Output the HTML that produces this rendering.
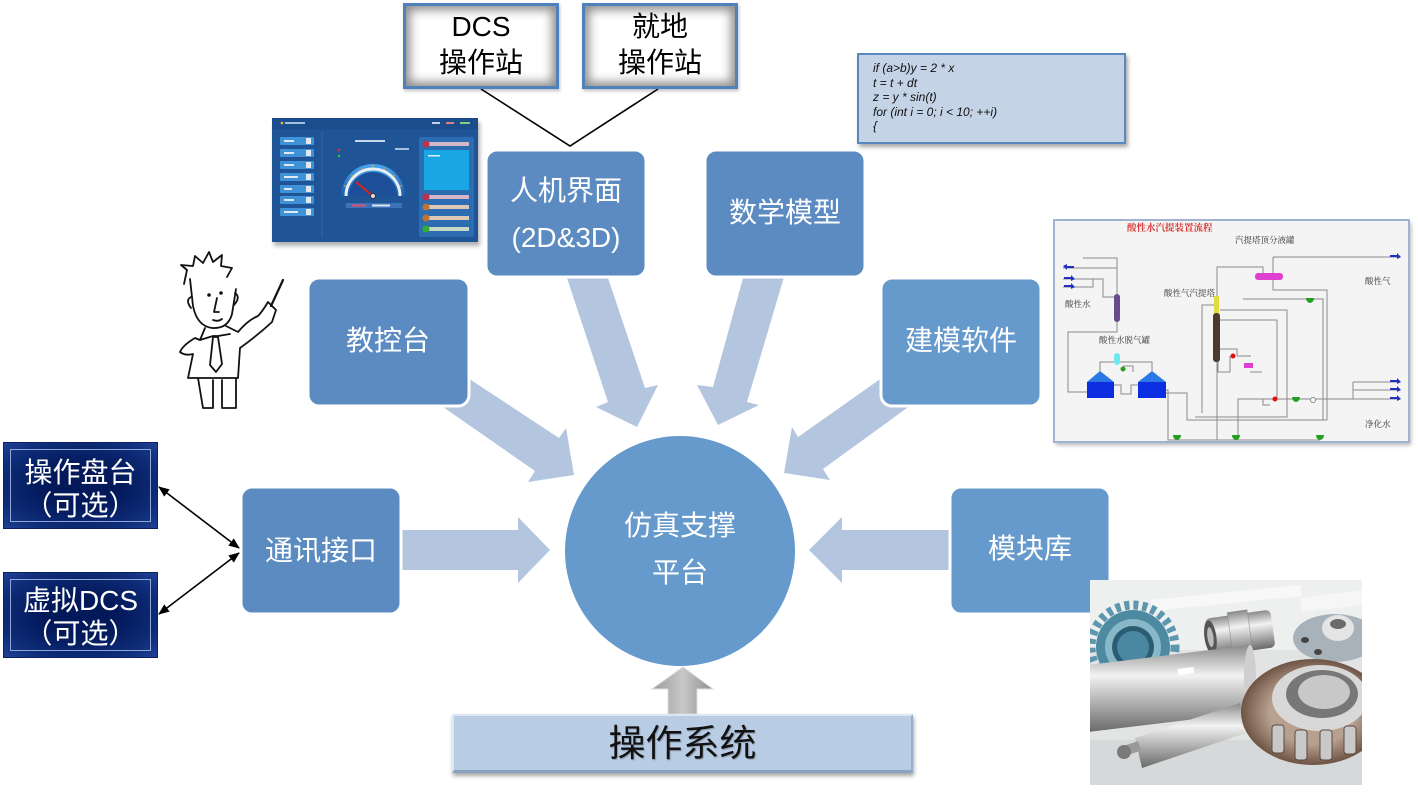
<!DOCTYPE html>
<html><head><meta charset="utf-8">
<style>
html,body{margin:0;padding:0;background:#fff;}
#c{position:relative;width:1418px;height:800px;overflow:hidden;background:#fff;font-family:"Liberation Sans","Noto Sans CJK SC",sans-serif;}
#c svg{position:absolute;left:0;top:0;}
.ws{position:absolute;box-sizing:border-box;border:3px solid #4f81bd;background:#fff;box-shadow:inset 0 0 10px 4px #8c8c8c,1px 2px 3px rgba(0,0,0,.25);text-align:center;color:#000;font-size:28px;line-height:36px;padding-top:3px;}
.nv{position:absolute;box-sizing:border-box;background:radial-gradient(ellipse at center,#03195a 35%,#0e2c78 75%,#1f4196 100%);border:1px solid #0a2060;text-align:center;color:#fff;font-size:28px;line-height:33px;}
.nv i{position:absolute;left:6px;top:6px;right:6px;bottom:6px;border:1px solid #8fa6d6;}
.nv span{position:relative;display:block;}
.os{position:absolute;left:452px;top:714px;width:461px;height:59px;box-sizing:border-box;background:#b8cce4;border-top:2px solid #dce7f3;border-left:2px solid #dce7f3;border-right:2px solid #97afcc;border-bottom:3px solid #8aa3c3;box-shadow:1px 3px 4px rgba(0,0,0,.35);text-align:center;font-size:37px;line-height:56px;color:#111;text-shadow:1px 1px 1px rgba(0,0,0,.25);}
.code{position:absolute;left:857px;top:53px;width:269px;height:91px;box-sizing:border-box;background:#c5d3e6;border:2px solid #5b87c1;box-shadow:2px 3px 4px rgba(0,0,0,.35);font-style:italic;font-size:12px;line-height:14.5px;padding:6px 0 0 14px;color:#111;white-space:pre;}
</style></head>
<body><div id="c">
<svg width="1418" height="800" viewBox="0 0 1418 800" xmlns="http://www.w3.org/2000/svg">
<defs>
<marker id="ah" markerWidth="11" markerHeight="9" refX="10" refY="4.5" orient="auto-start-reverse" markerUnits="userSpaceOnUse"><path d="M0,0 L11,4.5 L0,9 z" fill="#000"/></marker>
<linearGradient id="gar" x1="0" x2="1" y1="0" y2="0"><stop offset="0" stop-color="#9a9a9a"/><stop offset=".5" stop-color="#c8c8c8"/><stop offset="1" stop-color="#8e8e8e"/></linearGradient>
<linearGradient id="silv" x1="0" x2="0" y1="0" y2="1"><stop offset="0" stop-color="#8a8a8a"/><stop offset=".35" stop-color="#f2f2f2"/><stop offset=".6" stop-color="#bdbdbd"/><stop offset="1" stop-color="#6a6a6a"/></linearGradient>
<linearGradient id="gauge" x1="0" x2="0" y1="0" y2="1"><stop offset="0" stop-color="#4aa6ee"/><stop offset="1" stop-color="#1a5cb0"/></linearGradient>
<radialGradient id="brg" cx=".5" cy=".5" r=".5"><stop offset=".6" stop-color="#b8a090"/><stop offset="1" stop-color="#6e5444"/></radialGradient>
<filter id="bl" x="-10%" y="-10%" width="120%" height="130%"><feGaussianBlur stdDeviation="2"/></filter>
<clipPath id="pc"><rect x="1090" y="580" width="272" height="205"/></clipPath>
</defs>

<!-- V connector lines -->
<polyline points="481,89 570,146 658,89" fill="none" stroke="#000" stroke-width="1.6"/>

<!-- double arrows -->
<line x1="159" y1="487" x2="239" y2="548" stroke="#000" stroke-width="1.6" marker-start="url(#ah)" marker-end="url(#ah)"/>
<line x1="239" y1="553" x2="159" y2="614" stroke="#000" stroke-width="1.6" marker-start="url(#ah)" marker-end="url(#ah)"/>

<!-- big light arrows -->
<g fill="#b4c6df">
<polygon points="561,260 608,402 596,407 637,427 658,385 645,388 602,260"/>
<polygon points="748,260 713,387 697,385 718,425 759,405 747,402 789,260"/>
<polygon points="430,353 559,438 566,428 574,475 528,482 535,471 410,384"/>
<polygon points="920,351 798,437 792,427 784,473 830,480 823,469 940,384"/>
<polygon points="380,530 518,530 518,517 550,550 518,583 518,570 380,570"/>
<polygon points="975,530 842,530 842,517 809,550 842,583 842,570 975,570"/>
</g>

<!-- gray up arrow -->
<polygon points="683,667 713,689 697,689 697,714 668,714 668,689 652,689" fill="url(#gar)" stroke="#dedede" stroke-width="1"/>

<!-- circle -->
<circle cx="680" cy="551" r="115" fill="#6699cc"/>
<g fill="#fff" font-size="28" text-anchor="middle" font-family="Liberation Sans, Noto Sans CJK SC, sans-serif">
<text x="680" y="535">仿真支撑</text>
<text x="680" y="582">平台</text>
</g>

<!-- rounded boxes -->
<g stroke="#fff" stroke-width="3">
<rect x="486" y="150" width="160" height="127" rx="11" fill="#5b8bc1"/>
<rect x="705" y="150" width="160" height="127" rx="11" fill="#5b8bc1"/>
<rect x="308" y="278" width="161" height="128" rx="11" fill="#5b8bc1"/>
<rect x="881" y="278" width="160" height="128" rx="11" fill="#6699cc"/>
<rect x="241" y="487" width="160" height="127" rx="11" fill="#5b8bc1"/>
<rect x="950" y="487" width="160" height="127" rx="11" fill="#6699cc"/>
</g>
<g fill="#fff" font-size="28" text-anchor="middle" font-family="Liberation Sans, Noto Sans CJK SC, sans-serif">
<text x="566" y="200">人机界面</text>
<text x="566" y="247">(2D&amp;3D)</text>
<text x="785" y="222">数学模型</text>
<text x="388" y="350">教控台</text>
<text x="961" y="350">建模软件</text>
<text x="321" y="560">通讯接口</text>
<text x="1030" y="558">模块库</text>
</g>

<!-- HMI screenshot -->
<g>
<rect x="274" y="122" width="206" height="124" fill="#000" opacity=".3" filter="url(#bl)"/>
<rect x="272" y="118" width="206" height="124" fill="#1f5596"/>
<rect x="272" y="118" width="206" height="11" fill="#1b4d8c"/>
<circle cx="282" cy="123" r="1.3" fill="#f0c020"/>
<rect x="285" y="122" width="20" height="2" fill="#9fc0e0"/>
<rect x="432" y="122" width="8" height="2" fill="#c0d4e8"/><rect x="446" y="122" width="8" height="2" fill="#e08080"/><rect x="460" y="122" width="10" height="2" fill="#80d080"/>
<g fill="#3f92d8">
<rect x="280" y="137" width="34" height="8" rx="1"/><rect x="280" y="149" width="34" height="8" rx="1"/><rect x="280" y="161" width="34" height="8" rx="1"/><rect x="280" y="173" width="34" height="8" rx="1"/><rect x="280" y="185" width="34" height="8" rx="1"/><rect x="280" y="196" width="34" height="8" rx="1"/><rect x="280" y="208" width="34" height="8" rx="1"/>
</g>
<g fill="#e0e8f0">
<rect x="306" y="138" width="5" height="6"/><rect x="306" y="150" width="5" height="6"/><rect x="306" y="162" width="5" height="6"/><rect x="306" y="174" width="5" height="6"/><rect x="306" y="186" width="5" height="6"/><rect x="306" y="197" width="5" height="6"/><rect x="306" y="209" width="5" height="6"/>
<rect x="284" y="140" width="10" height="2"/><rect x="284" y="152" width="10" height="2"/><rect x="284" y="164" width="10" height="2"/><rect x="284" y="176" width="14" height="2"/><rect x="284" y="188" width="8" height="2"/><rect x="284" y="199" width="10" height="2"/><rect x="284" y="211" width="14" height="2"/>
</g>
<line x1="322" y1="132" x2="322" y2="238" stroke="#2c66aa" stroke-width="1"/>
<rect x="355" y="140" width="30" height="2" fill="#c8d8ea"/>
<rect x="395" y="148" width="14" height="2" fill="#a8c0dc"/>
<circle cx="339" cy="150" r="1.3" fill="#e03030"/><circle cx="339" cy="156" r="1.3" fill="#30c030"/>
<path d="M341,196 A32,32 0 0 1 405,196 Z" fill="url(#gauge)"/>
<path d="M346,196 A27,27 0 0 1 400,196" fill="none" stroke="#e8eef4" stroke-width="3"/>
<path d="M349,196 A24,24 0 0 1 397,196 Z" fill="#1c4f98"/>
<g fill="#e8a040"><circle cx="345" cy="186" r=".9"/><circle cx="352" cy="176" r=".9"/><circle cx="362" cy="169" r=".9"/><circle cx="373" cy="166" r=".9"/><circle cx="384" cy="169" r=".9"/><circle cx="394" cy="176" r=".9"/><circle cx="401" cy="186" r=".9"/></g>
<line x1="373" y1="196" x2="356" y2="182" stroke="#e02020" stroke-width="2"/>
<circle cx="373" cy="196" r="2.5" fill="#ddd" stroke="#333" stroke-width="1"/>
<rect x="346" y="203" width="56" height="5" fill="#3b72b9"/>
<rect x="352" y="204.5" width="14" height="2" fill="#e05070"/><rect x="372" y="204.5" width="18" height="2" fill="#e0e8f0"/>
<rect x="419" y="137" width="55" height="100" rx="2" fill="#2c6db2"/>
<rect x="428" y="142" width="41" height="4" fill="#d4b6c6"/><circle cx="426" cy="144" r="3.5" fill="#c0304a"/>
<rect x="424" y="150" width="45" height="40" fill="#19a6e4"/>
<rect x="428" y="155" width="12" height="1.5" fill="#e0f0ff"/>
<rect x="428" y="195" width="41" height="4" fill="#d4b6c6"/><circle cx="426" cy="197" r="3.5" fill="#c0304a"/>
<rect x="428" y="205" width="41" height="4" fill="#ddc8b8"/><circle cx="426" cy="207" r="3.5" fill="#c07232"/>
<rect x="428" y="216" width="41" height="4" fill="#ddc8b8"/><circle cx="426" cy="218" r="3.5" fill="#c07232"/>
<rect x="428" y="227" width="41" height="4" fill="#c8d8c8"/><circle cx="426" cy="229" r="3.5" fill="#30b030"/>
</g>

<!-- cartoon person -->
<g fill="none" stroke="#111" stroke-width="1.8" stroke-linejoin="round" stroke-linecap="round">
<polyline points="184,284 187,270 181,265 193,266 195,256 203,263 209,252 213,262 222,255 221,266 232,268 227,277"/>
<path d="M190,279 L193,306 Q197,326 212,328 Q228,329 232,314 L236,289"/>
<path d="M191,297 Q185,300 191,308"/>
<path d="M235,293 Q241,297 234,305"/>
<path d="M217,298 L214,312 L219,312"/>
<path d="M213,320 Q218,322 222,319"/>
<path d="M205,328 L200,340 L195,338 Q183,345 180,352 Q185,356 193,354 L188,378 L238,378 L240,348 Q258,335 272,322 L276,310 L268,302 Q262,312 258,316 Q248,320 238,332 L226,326"/>
<path d="M200,340 L213,336 L218,336 L230,334"/>
<polygon points="213,337 218,337 222,364 216,372 210,365" fill="#fff"/>
<line x1="271" y1="306" x2="283" y2="280" stroke-width="2.2"/>
<path d="M198,378 L203,408 L213,408 L213,380"/>
<path d="M222,380 L222,408 L236,408 L236,378"/>
</g>
<g fill="#111"><circle cx="209" cy="295" r="1.8"/><circle cx="221" cy="293" r="1.8"/></g>

<!-- process diagram -->
<g>
<rect x="1056" y="223" width="355" height="222" fill="#000" opacity=".3" filter="url(#bl)"/>
<rect x="1054" y="220" width="355" height="222" fill="#f4f4f4" stroke="#9fb2cf" stroke-width="2"/>
<g font-family="Liberation Serif, Noto Serif CJK SC, serif" font-size="8.5" fill="#333">
<text x="1127" y="231" fill="#d83030" font-size="9.5" font-weight="bold">酸性水汽提装置流程</text>
<text x="1235" y="243">汽提塔顶分液罐</text>
<text x="1365" y="284">酸性气</text>
<text x="1065" y="307">酸性水</text>
<text x="1164" y="296">酸性气汽提塔</text>
<text x="1099" y="343">酸性水脱气罐</text>
<text x="1365" y="427">净化水</text>
</g>
<g fill="none" stroke="#8a8a8a" stroke-width="1">
<polyline points="1083,258 1117,258 1117,294"/>
<polyline points="1063,268 1117,268"/>
<polyline points="1063,279 1103,279 1103,297 1114,297"/>
<polyline points="1063,287 1093,287 1093,279"/>
<polyline points="1117,322 1117,332 1068,332 1068,392 1087,392"/>
<polyline points="1100,371 1100,362 1152,362 1152,371"/>
<polyline points="1114,385 1121,385 1121,394 1131,394 1131,385 1138,385"/>
<polyline points="1123,366 1133,366 1133,372"/>
<polyline points="1166,390 1168,390 1168,440 1320,440"/>
<polyline points="1166,393 1187,393 1187,420 1327,420"/>
<polyline points="1273,257 1397,257"/>
<polyline points="1273,257 1273,290 1327,290 1327,420"/>
<polyline points="1217,296 1217,267 1263,267 1263,273"/>
<polyline points="1243,299 1323,299 1323,420"/>
<polyline points="1202,413 1202,305 1214,305"/>
<polyline points="1220,310 1287,310 1287,417 1195,417"/>
<polyline points="1220,320 1277,320 1277,399"/>
<polyline points="1220,349 1237,349 1237,356"/>
<polyline points="1230,356 1230,372 1218,372 1218,360"/>
<polyline points="1237,356 1250,356 1250,355"/>
<polyline points="1250,372 1262,372"/>
<polyline points="1238,440 1238,399 1280,399 1353,399"/>
<polyline points="1353,382 1397,382"/>
<polyline points="1353,390 1397,390"/>
<polyline points="1353,399 1397,399"/>
<polyline points="1353,382 1353,399"/>
<polyline points="1217,362 1217,440"/>
<polyline points="1263,399 1263,405 1270,405"/>
</g>
<rect x="1114" y="294" width="6" height="28" rx="3" fill="#6b4a8a"/>
<polygon points="1087,382 1100,371 1114,382" fill="#2a78e6"/><rect x="1087" y="382" width="27" height="16" fill="#0c2ee0"/>
<polygon points="1138,382 1152,371 1166,382" fill="#2a78e6"/><rect x="1138" y="382" width="28" height="16" fill="#0c2ee0"/>
<rect x="1114" y="353" width="6" height="12" rx="3" fill="#6fe8f0"/>
<rect x="1214" y="296" width="5" height="18" fill="#e2dc40"/>
<rect x="1213" y="313" width="7" height="49" rx="3" fill="#4a3a30"/>
<rect x="1255" y="273" width="28" height="7" rx="3" fill="#e040d0"/>
<rect x="1244" y="363" width="9" height="5" fill="#e040d0"/>
<circle cx="1233" cy="356" r="2.5" fill="#e01010"/><circle cx="1275" cy="399" r="2.5" fill="#e01010"/>
<circle cx="1313" cy="400" r="2.5" fill="#fff" stroke="#888"/>
<g fill="#22a022">
<path d="M1306,298 h8 a4,5 0 0 1 -8,0z"/><path d="M1292,397 h8 a4,5 0 0 1 -8,0z"/>
<path d="M1173,435 h8 a4,5 0 0 1 -8,0z"/><path d="M1232,435 h8 a4,5 0 0 1 -8,0z"/><path d="M1316,435 h8 a4,5 0 0 1 -8,0z"/>
<circle cx="1123" cy="369" r="2.5"/>
</g>
<g fill="#2030c0">
<polygon points="1063,266 1070,266 1070,264 1074,268 1070,270 1070,268 1063,268" transform="rotate(180 1068.5 267)"/>
<polygon points="1064,277 1071,277 1071,275 1075,279 1071,281 1071,279 1064,279"/>
<polygon points="1064,285 1071,285 1071,283 1075,287 1071,289 1071,287 1064,287"/>
<polygon points="1390,255 1397,255 1397,253 1401,257 1397,259 1397,257 1390,257"/>
<polygon points="1390,380 1397,380 1397,378 1401,382 1397,384 1397,382 1390,382"/>
<polygon points="1390,388 1397,388 1397,386 1401,390 1397,392 1397,390 1390,390"/>
<polygon points="1390,397 1397,397 1397,395 1401,399 1397,401 1397,399 1390,399"/>
</g>
</g>

<!-- parts photo -->
<g clip-path="url(#pc)">
<rect x="1090" y="580" width="272" height="205" fill="#e2e4e4"/>
<rect x="1090" y="580" width="272" height="70" fill="#eef0f0"/>
<path d="M1150,600 L1300,585 L1302,596 L1152,611Z" fill="#fafafa" opacity=".8"/>
<path d="M1300,598 L1362,590 L1362,605 L1302,612Z" fill="#f8f8f8" opacity=".8"/>
<rect x="1090" y="740" width="272" height="45" fill="#d6d9da"/>
<circle cx="1133" cy="647" r="42" fill="none" stroke="#5d97ad" stroke-width="9" stroke-dasharray="5 4"/>
<circle cx="1133" cy="647" r="37" fill="#4d8aa2"/>
<circle cx="1133" cy="647" r="28" fill="#88b8c8"/>
<circle cx="1133" cy="647" r="21" fill="#2b5d72"/>
<circle cx="1133" cy="647" r="16" fill="#4a87a0"/>
<g transform="rotate(-8 1240 632)">
<rect x="1207" y="614" width="66" height="38" rx="5" fill="url(#silv)"/>
<rect x="1230" y="611" width="20" height="44" fill="url(#silv)" stroke="#888" stroke-width=".5"/>
<ellipse cx="1210" cy="633" rx="6" ry="17" fill="#555"/>
<ellipse cx="1210" cy="633" rx="3" ry="10" fill="#bbb"/>
</g>
<ellipse cx="1335" cy="638" rx="42" ry="24" fill="#a8b2ba"/>
<ellipse cx="1338" cy="628" rx="16" ry="13" fill="#e4e4e4"/>
<ellipse cx="1338" cy="624" rx="8" ry="5" fill="#6a6a6a"/>
<ellipse cx="1305" cy="640" rx="4" ry="3" fill="#444"/><ellipse cx="1318" cy="652" rx="4" ry="3" fill="#444"/>
<polygon points="1088,665 1250,645 1254,712 1088,732" fill="url(#silv)"/>
<ellipse cx="1250" cy="678" rx="6" ry="33" fill="#cfcfcf"/>
<rect x="1178" y="668" width="16" height="6" fill="#fff" transform="rotate(-7 1186 671)"/>
<polygon points="1135,738 1240,703 1246,733 1142,768" fill="url(#silv)"/>
<rect x="1120" y="744" width="20" height="10" fill="#9a9a9a" transform="rotate(-18 1130 749)"/>
<circle cx="1124" cy="752" r="7" fill="#7a7a7a"/>
<ellipse cx="1313" cy="712" rx="72" ry="53" fill="url(#brg)"/>
<ellipse cx="1320" cy="698" rx="48" ry="33" fill="#d8d8d8"/>
<ellipse cx="1322" cy="694" rx="36" ry="24" fill="#777"/>
<ellipse cx="1324" cy="692" rx="26" ry="17" fill="#c8c8c8"/>
<g fill="#c9c9c9" stroke="#5a4a40" stroke-width="1">
<rect x="1272" y="725" width="12" height="28" rx="3"/><rect x="1295" y="730" width="12" height="30" rx="3"/><rect x="1320" y="730" width="12" height="30" rx="3"/><rect x="1344" y="726" width="12" height="28" rx="3"/>
</g>
</g>
</svg>

<div class="ws" style="left:403px;top:3px;width:156px;height:86px;">DCS<br>操作站</div>
<div class="ws" style="left:582px;top:3px;width:156px;height:86px;">就地<br>操作站</div>

<div class="nv" style="left:3px;top:442px;width:155px;height:87px;padding-top:13px;"><i></i><span>操作盘台</span><span>（可选）</span></div>
<div class="nv" style="left:3px;top:572px;width:155px;height:86px;padding-top:11px;"><i></i><span>虚拟DCS</span><span>（可选）</span></div>

<div class="code">if (a&gt;b)y = 2 * x
t = t + dt
z = y * sin(t)
for (int i = 0; i &lt; 10; ++i)
{</div>

<div class="os">操作系统</div>
</div></body></html>
